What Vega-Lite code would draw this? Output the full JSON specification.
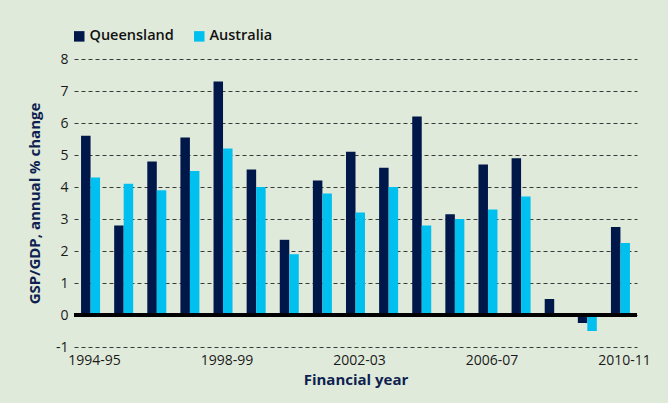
{
  "$schema": "https://vega.github.io/schema/vega-lite/v6.json",
  "width": 563,
  "height": 288,
  "autosize": "none",
  "padding": {"left": 74, "top": 59, "right": 31, "bottom": 56},
  "background": "#e0eadb",
  "config": {
    "view": {"stroke": null},
    "font": "Open Sans"
  },
  "data": {
    "values": [
      {"year": "1994-95", "region": "Queensland", "value": 5.6},
      {"year": "1994-95", "region": "Australia", "value": 4.3},
      {"year": "1995-96", "region": "Queensland", "value": 2.8},
      {"year": "1995-96", "region": "Australia", "value": 4.1},
      {"year": "1996-97", "region": "Queensland", "value": 4.8},
      {"year": "1996-97", "region": "Australia", "value": 3.9},
      {"year": "1997-98", "region": "Queensland", "value": 5.55},
      {"year": "1997-98", "region": "Australia", "value": 4.5},
      {"year": "1998-99", "region": "Queensland", "value": 7.3},
      {"year": "1998-99", "region": "Australia", "value": 5.2},
      {"year": "1999-00", "region": "Queensland", "value": 4.55},
      {"year": "1999-00", "region": "Australia", "value": 4.0},
      {"year": "2000-01", "region": "Queensland", "value": 2.35},
      {"year": "2000-01", "region": "Australia", "value": 1.9},
      {"year": "2001-02", "region": "Queensland", "value": 4.2},
      {"year": "2001-02", "region": "Australia", "value": 3.8},
      {"year": "2002-03", "region": "Queensland", "value": 5.1},
      {"year": "2002-03", "region": "Australia", "value": 3.2},
      {"year": "2003-04", "region": "Queensland", "value": 4.6},
      {"year": "2003-04", "region": "Australia", "value": 4.0},
      {"year": "2004-05", "region": "Queensland", "value": 6.2},
      {"year": "2004-05", "region": "Australia", "value": 2.8},
      {"year": "2005-06", "region": "Queensland", "value": 3.15},
      {"year": "2005-06", "region": "Australia", "value": 3.0},
      {"year": "2006-07", "region": "Queensland", "value": 4.7},
      {"year": "2006-07", "region": "Australia", "value": 3.3},
      {"year": "2007-08", "region": "Queensland", "value": 4.9},
      {"year": "2007-08", "region": "Australia", "value": 3.7},
      {"year": "2008-09", "region": "Queensland", "value": 0.5},
      {"year": "2009-10", "region": "Queensland", "value": -0.25},
      {"year": "2009-10", "region": "Australia", "value": -0.5},
      {"year": "2010-11", "region": "Queensland", "value": 2.75},
      {"year": "2010-11", "region": "Australia", "value": 2.25}
    ]
  },
  "layer": [
    {
      "mark": {"type": "bar"},
      "encoding": {
        "x": {
          "field": "year",
          "type": "nominal",
          "sort": null,
          "scale": {"paddingInner": 0.426, "paddingOuter": 0.213},
          "axis": {
            "title": "Financial year",
            "titleFont": "Open Sans",
            "titleFontSize": 15,
            "titleFontWeight": "bold",
            "titleColor": "#0f1f50",
            "titlePadding": 5,
            "values": ["1994-95", "1998-99", "2002-03", "2006-07", "2010-11"],
            "labelAngle": 0,
            "labelFontSize": 14,
            "labelColor": "#1a1a1a",
            "labelOffset": 4,
            "labelPadding": 6,
            "ticks": false,
            "domain": false,
            "grid": false
          }
        },
        "xOffset": {
          "field": "region",
          "type": "nominal",
          "sort": ["Queensland", "Australia"],
          "scale": {"paddingInner": 0, "paddingOuter": 0}
        },
        "y": {
          "field": "value",
          "type": "quantitative",
          "scale": {"domain": [-1, 8], "nice": false, "zero": false},
          "axis": {
            "title": "GSP/GDP, annual % change",
            "titleFont": "Open Sans",
            "titleFontSize": 15,
            "titleFontWeight": "bold",
            "titleColor": "#0f1f50",
            "titlePadding": 13,
            "values": [-1, 0, 1, 2, 3, 4, 5, 6, 7, 8],
            "tickCount": 20,
            "labelOverlap": false,
            "labelExpr": "'' + datum.value",
            "labelFontSize": 14,
            "labelColor": "#1a1a1a",
            "labelPadding": 6,
            "ticks": false,
            "domain": false,
            "grid": true,
            "gridColor": "#3a3a3a",
            "gridDash": [4, 3],
            "gridWidth": 1.2
          }
        },
        "color": {
          "field": "region",
          "type": "nominal",
          "sort": ["Queensland", "Australia"],
          "scale": {"domain": ["Queensland", "Australia"], "range": ["#00174a", "#00c0f0"]},
          "legend": {
            "title": null,
            "orient": "none",
            "direction": "horizontal",
            "legendX": -2,
            "legendY": -30,
            "symbolType": "square",
            "symbolSize": 110,
            "symbolStrokeWidth": 0,
            "labelFontSize": 14.5,
            "labelFontWeight": 600,
            "labelColor": "#111111",
            "columnPadding": 18,
            "labelOffset": 3
          }
        }
      }
    },
    {
      "mark": {"type": "rule", "color": "#000000", "strokeWidth": 2.5},
      "encoding": {"y": {"datum": 0}}
    }
  ]
}
